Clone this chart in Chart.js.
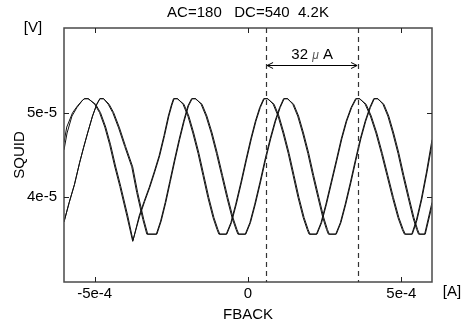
<!DOCTYPE html>
<html>
<head>
<meta charset="utf-8">
<script src="https://cdn.jsdelivr.net/npm/chart.js@4.4.1/dist/chart.umd.min.js"></script>
<style>
  html, body { margin: 0; padding: 0; background: #fff; }
  canvas { display: block; }
</style>
</head>
<body>
<canvas id="chart" width="465" height="325"></canvas>
<script>
// FBACK in microamps, SQUID in microvolts (axis labels show them in A / V)
const sweepA1 = [
    [-600,46.5],[-591,48.3],[-572,50.0],[-556,50.8],[-539,51.5],[-532,51.65],[-520,51.65],
    [-500,51.0],[-484,50.0],[-467,48.3],[-451,46.2],[-435,43.7],[-418,41.3],[-395,37.8],[-376,34.8],
    [-353,37.8],[-337,39.5],[-320,41.2],[-304,43.0],[-288,44.9],[-272,47.3],[-258,49.6],[-248,50.9],[-241,51.65],[-229,51.65],
    [-212,51.0],[-196,49.6],[-180,47.6],[-163,45.2],[-147,42.6],[-131,40.0],[-114,37.6],[-101,36.2],[-95,35.65],[-69,35.65],
    [-54,37.0],[-38,39.2],[-21,41.8],[-5,44.4],[11,46.9],[26,49.0],[40,50.6],[53,51.65],[65,51.65],
    [82,51.0],[98,49.6],[114,47.6],[131,45.2],[147,42.6],[163,40.0],[180,37.6],[193,36.2],[199,35.65],[225,35.65],
    [240,37.0],[256,39.2],[273,41.8],[290,44.4],[306,46.9],[322,49.0],[338,50.6],[353,51.65],[365,51.65],
    [382,51.0],[399,49.6],[417,47.6],[435,45.2],[453,42.6],[471,40.0],[489,37.6],[503,36.2],[510,35.65],[536,35.65],
    [551,37.3],[567,39.8],[584,43.0],[600,46.3]
];
const sweepA2 = [
    [-600,45.6],[-590,47.6],[-574,49.6],[-558,50.6],[-541,51.4],[-534,51.65],[-522,51.65],
    [-497,51.0],[-481,50.0],[-464,48.3],[-448,46.2],[-432,43.7],[-415,41.3],[-392,37.8],[-375,34.9],
    [-355,37.8],[-339,39.5],[-322,41.2],[-306,43.0],[-290,44.9],[-274,47.3],[-260,49.6],[-250,50.9],[-243,51.65],[-231,51.65],
    [-209,51.0],[-193,49.6],[-177,47.6],[-160,45.2],[-144,42.6],[-128,40.0],[-111,37.6],[-98,36.2],[-92,35.65],[-71,35.65],
    [-56,37.0],[-40,39.2],[-23,41.8],[-7,44.4],[9,46.9],[24,49.0],[38,50.6],[51,51.65],[63,51.65],
    [85,51.0],[101,49.6],[117,47.6],[134,45.2],[150,42.6],[166,40.0],[183,37.6],[196,36.2],[202,35.65],[223,35.65],
    [238,37.0],[254,39.2],[271,41.8],[288,44.4],[304,46.9],[320,49.0],[336,50.6],[351,51.65],[363,51.65],
    [385,51.0],[402,49.6],[420,47.6],[438,45.2],[456,42.6],[474,40.0],[492,37.6],[506,36.2],[513,35.65],[534,35.65],
    [549,37.3],[565,39.8],[582,43.0],[600,46.8]
];
const sweepB1 = [
    [-600,37.1],[-583,39.4],[-566,41.5],[-549,44.1],[-536,45.9],[-523,47.6],[-507,49.6],[-493,51.0],[-483,51.65],[-471,51.65],
    [-456,51.0],[-441,50.0],[-422,48.2],[-402,46.0],[-379,43.6],[-363,40.6],[-343,37.4],[-330,35.65],[-297,35.65],
    [-283,37.2],[-268,39.4],[-253,41.9],[-238,44.4],[-223,46.8],[-208,49.0],[-194,50.8],[-182,51.65],[-170,51.65],
    [-153,51.0],[-137,49.6],[-120,47.6],[-103,45.2],[-86,42.6],[-69,40.0],[-52,37.6],[-39,36.2],[-33,35.65],[-7,35.65],
    [8,37.0],[24,39.2],[41,41.8],[57,44.4],[74,46.9],[90,49.0],[105,50.6],[118,51.65],[130,51.65],
    [146,51.0],[162,49.6],[178,47.6],[195,45.2],[211,42.6],[228,40.0],[244,37.6],[256,36.2],[262,35.65],[288,35.65],
    [303,37.0],[319,39.2],[336,41.8],[352,44.4],[368,46.9],[384,49.0],[399,50.6],[412,51.65],[424,51.65],
    [440,51.0],[456,49.6],[472,47.6],[489,45.2],[505,42.6],[522,40.0],[538,37.6],[550,36.2],[556,35.65],[578,35.65],
    [600,39.0]
];
const sweepB2 = [
    [-600,37.1],[-583,39.4],[-566,41.5],[-549,44.1],[-536,45.9],[-523,47.6],[-507,49.6],[-493,51.0],[-483,51.65],[-471,51.65],
    [-453,51.0],[-438,50.0],[-419,48.2],[-399,46.0],[-376,43.6],[-360,40.6],[-340,37.4],[-327,35.65],[-299,35.65],
    [-285,37.2],[-270,39.4],[-255,41.9],[-240,44.4],[-225,46.8],[-210,49.0],[-196,50.8],[-184,51.65],[-172,51.65],
    [-150,51.0],[-134,49.6],[-117,47.6],[-100,45.2],[-83,42.6],[-66,40.0],[-49,37.6],[-36,36.2],[-30,35.65],[-9,35.65],
    [6,37.0],[22,39.2],[39,41.8],[55,44.4],[72,46.9],[88,49.0],[103,50.6],[116,51.65],[128,51.65],
    [149,51.0],[165,49.6],[181,47.6],[198,45.2],[214,42.6],[231,40.0],[247,37.6],[259,36.2],[265,35.65],[286,35.65],
    [301,37.0],[317,39.2],[334,41.8],[350,44.4],[366,46.9],[382,49.0],[397,50.6],[410,51.65],[422,51.65],
    [443,51.0],[459,49.6],[475,47.6],[492,45.2],[508,42.6],[525,40.0],[541,37.6],[553,36.2],[559,35.65],[576,35.65],
    [600,39.4]
];

const xTicks = [-500, 0, 500];
const xTickLabels = ["-5e-4", "0", "5e-4"];
const yTicks = [40, 50];
const yTickLabels = ["4e-5", "5e-5"];

const titleText = "AC=180   DC=540  4.2K";
const markerX = [59, 359];     // dashed lines, one period apart
const arrowY = 55.65;
const arrowLabel = ["32", "\u03bc", "A"];

const FONT = '"Liberation Sans", Arial, sans-serif';

const framePlugin = {
    id: "frame",
    afterDraw(chart) {
        const ctx = chart.ctx;
        const a = chart.chartArea;
        const xs = chart.scales.x, ys = chart.scales.y;
        ctx.save();

        // box and inward ticks
        ctx.strokeStyle = "#4a4a4a";
        ctx.lineWidth = 1.5;
        ctx.strokeRect(a.left, a.top, a.right - a.left, a.bottom - a.top);
        ctx.lineWidth = 1;
        ctx.strokeStyle = "#222";
        ctx.beginPath();
        xTicks.forEach(v => {
            const px = Math.round(xs.getPixelForValue(v)) + 0.5;
            ctx.moveTo(px, a.bottom); ctx.lineTo(px, a.bottom - 5);
            ctx.moveTo(px, a.top); ctx.lineTo(px, a.top + 5);
        });
        yTicks.forEach(v => {
            const py = Math.round(ys.getPixelForValue(v)) + 0.5;
            ctx.moveTo(a.left, py); ctx.lineTo(a.left + 5, py);
            ctx.moveTo(a.right, py); ctx.lineTo(a.right - 5, py);
        });
        ctx.stroke();

        // dashed markers
        ctx.setLineDash([5, 4]);
        ctx.strokeStyle = "#333";
        ctx.lineWidth = 1.2;
        ctx.beginPath();
        markerX.forEach(v => {
            const px = Math.round(xs.getPixelForValue(v)) + 0.5;
            ctx.moveTo(px, a.top); ctx.lineTo(px, a.bottom);
        });
        ctx.stroke();
        ctx.setLineDash([]);

        // arrow between markers
        const x1 = xs.getPixelForValue(markerX[0]) + 1;
        const x2 = xs.getPixelForValue(markerX[1]) - 1;
        const ay = Math.round(ys.getPixelForValue(arrowY)) + 0.5;
        ctx.strokeStyle = "#000";
        ctx.lineWidth = 1;
        ctx.beginPath();
        ctx.moveTo(x1, ay); ctx.lineTo(x2, ay);
        ctx.moveTo(x1 + 6, ay - 3); ctx.lineTo(x1, ay); ctx.lineTo(x1 + 6, ay + 3);
        ctx.moveTo(x2 - 6, ay - 3); ctx.lineTo(x2, ay); ctx.lineTo(x2 - 6, ay + 3);
        ctx.stroke();

        // arrow label
        ctx.fillStyle = "#000";
        ctx.textBaseline = "alphabetic";
        ctx.font = "15px " + FONT;
        const w1 = ctx.measureText(arrowLabel[0] + " ").width;
        const w3 = ctx.measureText(" " + arrowLabel[2]).width;
        ctx.font = "italic 12px " + FONT;
        const w2 = ctx.measureText(arrowLabel[1]).width;
        let lx = (x1 + x2) / 2 - (w1 + w2 + w3) / 2;
        const ly = ay - 7;
        ctx.font = "15px " + FONT;
        ctx.fillText(arrowLabel[0] + " ", lx, ly);
        lx += w1;
        ctx.font = "italic 12px " + FONT;
        ctx.fillStyle = "#555";
        ctx.fillText(arrowLabel[1], lx, ly);
        lx += w2;
        ctx.font = "15px " + FONT;
        ctx.fillStyle = "#000";
        ctx.fillText(" " + arrowLabel[2], lx, ly);

        // title over the plot box, unit labels
        ctx.textAlign = "center";
        ctx.textBaseline = "middle";
        ctx.fillText(titleText, (a.left + a.right) / 2, 13);
        ctx.fillText("[V]", 33, a.top);
        ctx.fillText("[A]", 452, 292);
        ctx.restore();
    }
};

const sweeps = [sweepA1, sweepA2, sweepB1, sweepB2];

new Chart(document.getElementById("chart"), {
    type: "scatter",
    data: {
        datasets: sweeps.map(s => ({
            data: s.map(p => ({ x: p[0], y: p[1] })),
            showLine: true,
            borderColor: "#111",
            borderWidth: 1,
            pointRadius: 0,
            tension: 0
        }))
    },
    options: {
        responsive: false,
        animation: false,
        layout: { padding: { top: 28, right: 33, bottom: 0, left: 0 } },
        plugins: {
            legend: { display: false },
            tooltip: { enabled: false },
            title: { display: false }
        },
        scales: {
            x: {
                type: "linear",
                min: -600,
                max: 600,
                afterBuildTicks: s => { s.ticks = xTicks.map(v => ({ value: v })); },
                afterFit: s => { s.height = 43; },
                ticks: {
                    color: "#000",
                    padding: 3,
                    font: { family: FONT, size: 15 },
                    callback: v => xTickLabels[xTicks.indexOf(v)]
                },
                grid: { display: false, drawTicks: false },
                border: { display: false },
                title: {
                    display: true,
                    text: "FBACK",
                    color: "#000",
                    font: { family: FONT, size: 15 },
                    padding: { top: 0, bottom: 1 }
                }
            },
            y: {
                type: "linear",
                min: 30,
                max: 60,
                afterBuildTicks: s => { s.ticks = yTicks.map(v => ({ value: v })); },
                afterFit: s => { s.width = 64; },
                ticks: {
                    color: "#000",
                    padding: 7,
                    font: { family: FONT, size: 15 },
                    callback: v => yTickLabels[yTicks.indexOf(v)]
                },
                grid: { display: false, drawTicks: false },
                border: { display: false },
                title: {
                    display: true,
                    text: "SQUID",
                    color: "#000",
                    font: { family: FONT, size: 15 },
                    padding: { top: 11, bottom: 0 }
                }
            }
        }
    },
    plugins: [framePlugin]
});
</script>
</body>
</html>
